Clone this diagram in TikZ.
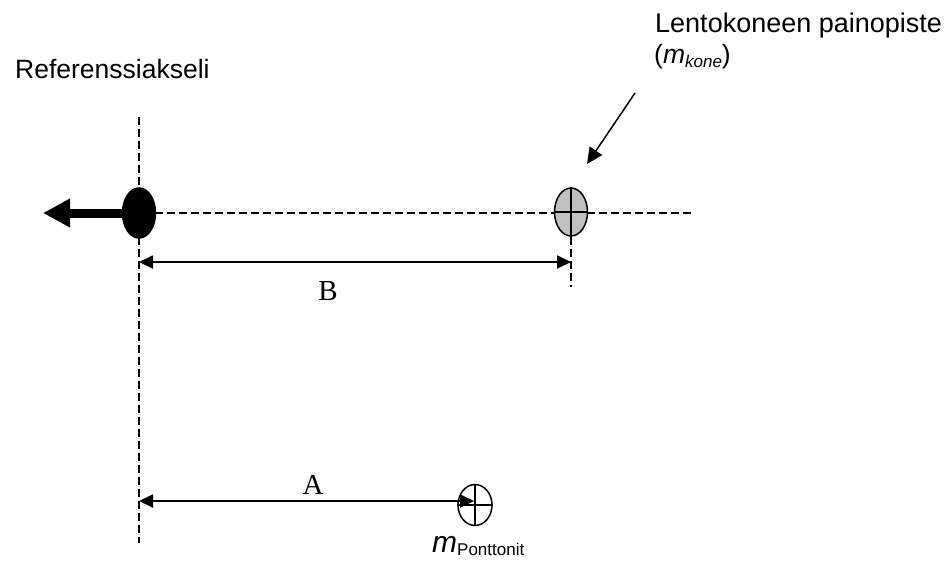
\documentclass[tikz,border=0pt]{standalone}
\usepackage{fontspec}
\setmainfont{Liberation Serif}
\setsansfont{Liberation Sans}
\usetikzlibrary{arrows.meta,shapes.geometric}
\begin{document}
\begin{tikzpicture}[x=1pt,y=-1pt,
  dashln/.style={line width=1.4pt, dash pattern=on 8pt off 4pt},
  dimln/.style={line width=1.8pt, {Triangle[length=14pt,width=13pt]}-{Triangle[length=14pt,width=13pt]}},
  pointer/.style={line width=1.5pt, -{Triangle[length=16pt,width=15pt]}},
  massdot/.style={ellipse, draw, line width=1.5pt, inner sep=0pt},
  sanslbl/.style={font=\sffamily\fontsize{26.5}{30}\selectfont, inner sep=0pt},
  seriflbl/.style={font=\rmfamily\fontsize{29}{33}\selectfont, inner sep=0pt}
]
\useasboundingbox (0,0) rectangle (949,568);

% reference axis
\coordinate (reftop) at (139,117);
\coordinate (refbot) at (139,543);
\draw[dashln] (reftop) -- (refbot);

% horizontal axis
\coordinate (hstart) at (155,213);
\coordinate (hend) at (693,213);
\draw[dashln] (hstart) -- (hend);

% reference point (black)
\node[massdot, fill=black, minimum width=33pt, minimum height=50pt] (ref) at (139,213) {};
\coordinate (tipL) at (43,213);
\draw[line width=9pt, -{Triangle[length=27pt,width=27pt]}] (ref.west) -- (tipL);

% aircraft centre of gravity (grey)
\node[massdot, fill={rgb,255:red,192;green,192;blue,192}, minimum width=33pt, minimum height=48pt] (cg) at (571,212) {};
\draw[line width=1.5pt] (cg.north) -- (cg.south) (cg.west) -- (cg.east);
\coordinate (cgbot) at (571,287);
\draw[dashln] (cg.south) -- (cgbot);

% dimension B
\coordinate (bL) at (139,262);
\coordinate (bR) at (571,262);
\draw[dimln] (bL) -- (bR);
\node[seriflbl] (lblB) at (328,291) {B};

% pontoons
\node[massdot, fill=white, minimum width=34pt, minimum height=41pt] (pont) at (475,505) {};
\draw[line width=1.5pt] (pont.north) -- (pont.south) (pont.west) -- (pont.east);
\coordinate (aL) at (139,501);
\coordinate (aR) at (474,501);
\draw[dimln] (aL) -- (aR);
\node[seriflbl] (lblA) at (313,485) {A};
\node[sanslbl, anchor=base west] (mpont) at (432,552) {\fontsize{30}{34}\selectfont\itshape m\upshape\raisebox{-3pt}{\fontsize{17}{20}\selectfont Ponttonit}};

% labels
\node[sanslbl, anchor=base west] (refl) at (15,78) {Referenssiakseli};
\node[sanslbl, anchor=base west, font=\sffamily\fontsize{27}{31}\selectfont] (lento) at (655,32) {Lentokoneen painopiste};
\node[sanslbl, anchor=base west] (mkone) at (654,63) {(\textit{m}\raisebox{-4pt}{\fontsize{17}{20}\selectfont\itshape kone})};

% pointer to CG
\coordinate (pstart) at (635,93);
\coordinate (pend) at (587,164);
\draw[pointer] (pstart) -- (pend);
\end{tikzpicture}
\end{document}
